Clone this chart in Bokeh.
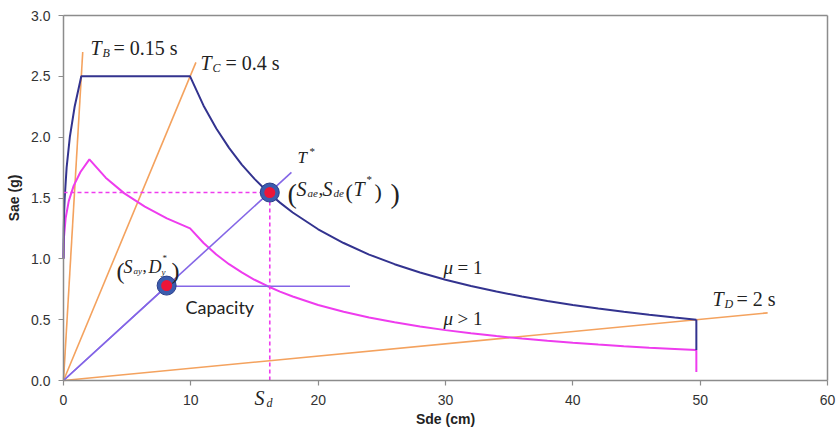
from bokeh.plotting import figure
from bokeh.models import Label, FixedTicker, NumeralTickFormatter, Range1d
from bokeh.embed import file_html
from bokeh.resources import INLINE

# ---------------- data ----------------
x_ticks = [0, 10, 20, 30, 40, 50, 60]
y_ticks = [0.0, 0.5, 1.0, 1.5, 2.0, 2.5, 3.0]

# elastic spectrum, mu = 1 (Sde cm, Sae g)
elastic_sd = [0, 0.004, 0.019, 0.048, 0.093, 0.245, 0.497, 0.874, 1.398, 9.94,
              11, 12, 13, 14, 15, 16, 17, 18, 20, 22, 24, 26, 28, 30, 32, 34,
              36, 38, 40, 42, 44, 46, 48, 49.7]
elastic_sa = [1.0, 1.125, 1.25, 1.375, 1.5, 1.75, 2.0, 2.25, 2.5, 2.5,
              2.259, 2.071, 1.912, 1.775, 1.657, 1.553, 1.462, 1.381, 1.243,
              1.130, 1.035, 0.956, 0.888, 0.828, 0.777, 0.731, 0.690, 0.654,
              0.621, 0.592, 0.565, 0.540, 0.518, 0.50]
elastic_end_sd = [49.7, 49.7]
elastic_end_sa = [0.50, 0.25]

# inelastic spectrum, mu > 1
inelastic_sd = [0, 0.037, 0.166, 0.412, 0.795, 1.332, 2.033, 3.313, 4.779,
                6.390, 8.118, 9.94, 11, 12, 13, 14, 15, 16, 17, 18, 20, 22, 24,
                26, 28, 30, 32, 34, 36, 38, 40, 42, 44, 46, 48, 49.7]
inelastic_sa = [1.0, 1.176, 1.333, 1.474, 1.6, 1.714, 1.818, 1.667, 1.538,
                1.429, 1.333, 1.25, 1.130, 1.035, 0.956, 0.888, 0.828, 0.777,
                0.731, 0.690, 0.621, 0.565, 0.518, 0.478, 0.444, 0.414, 0.388,
                0.365, 0.345, 0.327, 0.311, 0.296, 0.282, 0.270, 0.259, 0.25]
inelastic_end_sd = [49.7, 49.7]
inelastic_end_sa = [0.25, 0.07]

# period lines
tb_sd, tb_sa = [0, 1.51], [0, 2.70]
tc_sd, tc_sa = [0, 10.40], [0, 2.615]
td_sd, td_sa = [0, 55.3], [0, 0.556]

# capacity curve and T* line
capacity_sd = [0, 8.1, 22.5]
capacity_sa = [0, 0.775, 0.775]
tstar_sd = [0, 17.9]
tstar_sa = [0, 1.71]

# performance point and yield point
perf_sd, perf_sa = 16.2, 1.545
yield_sd, yield_sa = 8.1, 0.78
points_sd = [perf_sd, yield_sd]
points_sa = [perf_sa, yield_sa]

# axis extents
x_min, x_max = 0, 60
y_min, y_max = 0.0, 3.0

# ---------------- layout (pixels) ----------------
W, H = 839, 437
LEFT_PX, RIGHT_PX = 63, 827      # columns of x = 0 and x = 60
TOP_PX, AXIS_PX = 15, 380        # rows of y = 3 and y = 0
PX_PER_CM = (RIGHT_PX - LEFT_PX) / (x_max - x_min)
PX_PER_G = (AXIS_PX - TOP_PX) / (y_max - y_min)
x_start = x_min - LEFT_PX / PX_PER_CM
x_end = x_max + (W - RIGHT_PX) / PX_PER_CM
y_start = y_min - (H - AXIS_PX) / PX_PER_G
y_end = y_max + TOP_PX / PX_PER_G

BLUE = "#33338f"
MAGENTA = "#ee3cee"
ORANGE = "#f4a25e"
PURPLE = "#8466e6"
GRAY = "#8c8c8c"
SERIF = "Liberation Serif"

p = figure(width=W, height=H, x_range=Range1d(x_start, x_end),
           y_range=Range1d(y_start, y_end),
           output_backend="svg", toolbar_location=None,
           min_border=0, min_border_left=0, min_border_right=0,
           min_border_top=0, min_border_bottom=0)
p.xgrid.visible = False
p.ygrid.visible = False
p.outline_line_color = None

for ax in (p.xaxis, p.yaxis):
    ax.axis_line_color = GRAY
    ax.axis_line_width = 1.5
    ax.major_tick_line_color = GRAY
    ax.major_tick_line_width = 1.2
    ax.major_tick_out = 5
    ax.major_tick_in = 0
    ax.minor_tick_line_color = None
    ax.major_label_text_font = "Liberation Sans"
    ax.major_label_text_font_size = "14px"
    ax.major_label_text_color = "#333333"
    ax.axis_label_text_font = "Liberation Sans"
    ax.axis_label_text_font_size = "14px"
    ax.axis_label_text_font_style = "bold"
    ax.axis_label_text_color = "#222222"

p.xaxis.ticker = FixedTicker(ticks=x_ticks)
p.yaxis.ticker = FixedTicker(ticks=y_ticks)
p.xaxis.formatter = NumeralTickFormatter(format="0")
p.yaxis.formatter = NumeralTickFormatter(format="0.0")
p.xaxis.axis_label = "Sde (cm)"
p.yaxis.axis_label = "Sae (g)"
p.xaxis.major_label_standoff = 9
p.yaxis.major_label_standoff = 8
p.xaxis.axis_label_standoff = 3
p.yaxis.axis_label_standoff = 6
p.xaxis.fixed_location = y_min
p.yaxis.fixed_location = x_min
p.xaxis.bounds = (x_min, x_max)
p.yaxis.bounds = (y_min, y_max)

# top and right border of the plot box
p.line([x_min, x_max], [y_max, y_max], line_color=GRAY, line_width=1.5)
p.line([x_max, x_max], [y_min, y_max], line_color=GRAY, line_width=1.5)

# period lines
p.line(tb_sd, tb_sa, line_color=ORANGE, line_width=1.6)
p.line(tc_sd, tc_sa, line_color=ORANGE, line_width=1.6)
p.line(td_sd, td_sa, line_color=ORANGE, line_width=1.6)

# spectra
p.line(inelastic_sd, inelastic_sa, line_color=MAGENTA, line_width=2)
p.line(inelastic_end_sd, inelastic_end_sa, line_color=MAGENTA, line_width=2)
p.line(elastic_sd, elastic_sa, line_color=BLUE, line_width=2)
p.line(elastic_end_sd, elastic_end_sa, line_color=BLUE, line_width=2)

# capacity and T*
p.line(capacity_sd, capacity_sa, line_color=PURPLE, line_width=1.6)
p.line(tstar_sd, tstar_sa, line_color=PURPLE, line_width=1.6)

# dashed guides to performance point
p.line([x_min, perf_sd], [perf_sa, perf_sa], line_color=MAGENTA, line_width=1.6,
       line_dash="4 3")
p.line([perf_sd, perf_sd], [y_min, perf_sa], line_color=MAGENTA, line_width=1.6,
       line_dash="4 3")

# markers
p.scatter(points_sd, points_sa, size=19, fill_color="#3b5cae", line_color="#2c3f8a",
          line_width=1)
p.scatter(points_sd, points_sa, size=11, fill_color="#ec1538", line_color=None)


# ---------------- annotations ----------------
SHIFT = 6  # px upward correction


def X(px):
    return (px - LEFT_PX) / PX_PER_CM


def Y(py):
    return (AXIS_PX - (py - SHIFT)) / PX_PER_G


def put(text, px, py, size, italic=False, font=SERIF, color="#222222"):
    p.add_layout(Label(x=X(px), y=Y(py), text=text, text_font=font,
                       text_font_size=f"{size}px",
                       text_font_style="italic" if italic else "normal",
                       text_baseline="alphabetic", text_align="left",
                       text_color=color))


# T_B = 0.15 s
put("T", 90, 53, 20, True)
put("B", 102, 58, 12, True)
put("= 0.15 s", 113, 53, 20)
# T_C = 0.4 s
put("T", 200, 68, 20, True)
put("C", 212, 73, 12, True)
put("= 0.4 s", 225, 68, 20)
# T_D = 2 s
put("T", 712, 304, 20, True)
put("D", 724, 309, 12, True)
put("= 2 s", 736, 304, 20)
# T*
put("T", 297, 163, 17, True)
put("*", 309, 156, 11)
# (S_ae, S_de(T*))
put("(", 287, 199, 28)
put("S", 296, 194, 20, True)
put("ae", 307, 198, 11, True)
put(",", 318, 194, 19)
put("S", 322, 194, 20, True)
put("de", 333, 198, 11, True)
put("(", 345, 197, 22)
put("T", 353, 194, 20, True)
put("*", 366, 184, 11)
put(")", 374, 197, 22)
put(")", 390, 199, 28)
# (S_ay, D_y*)
put("(", 116, 276, 24)
put("S", 123, 272, 18, True)
put("ay", 133, 276, 9, True)
put(",", 142, 272, 17)
put("D", 148, 272, 18, True)
put("*", 162, 263, 9)
put("y", 161, 277, 9, True)
put(")", 171, 276, 24)
# Capacity
put("Capacity", 185, 312, 18, font="Lato", color="#222222")
# mu labels
put("μ", 443, 273, 19, True)
put("= 1", 457, 273, 19)
put("μ", 443, 324, 19, True)
put("> 1", 457, 324, 19)
# S_d below the axis
put("S", 254, 403, 20, True)
put("d", 266, 408, 12, True)

open("out.html", "w").write(file_html(p, INLINE))
